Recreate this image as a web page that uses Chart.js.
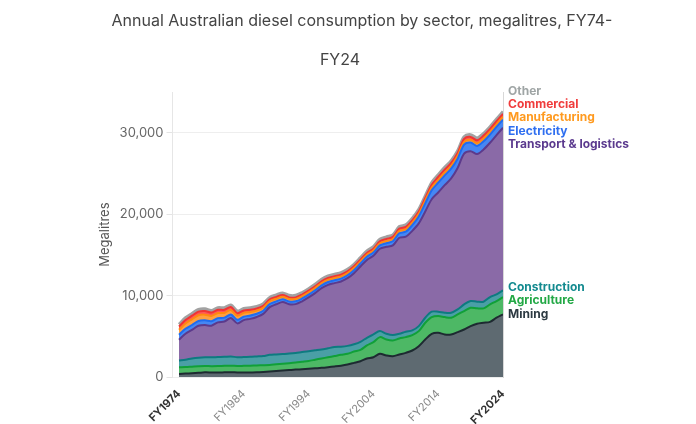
<!DOCTYPE html>
<html lang="en">
<head>
    <meta charset="UTF-8">
    <title>Annual Australian diesel consumption by sector</title>
    <script src="https://cdn.jsdelivr.net/npm/chart.js"></script>
    <style>
        html, body { margin: 0; padding: 0; background: #fff; overflow: hidden; }
        #wrap { position: relative; width: 696px; height: 424px; overflow: hidden; }
        .title { position: absolute; font-family: Inter, sans-serif; font-size: 16px; color: #444; white-space: nowrap; transform: translateX(-50%); }
    </style>
</head>
<body>
<div id="wrap">
    <div class="title" style="left:362px; top:10px;">Annual Australian diesel consumption by sector, megalitres, FY74-</div>
    <div class="title" style="left:340px; top:49px;">FY24</div>
    <canvas id="dieselChart" width="696" height="424"></canvas>
</div>
<script>
    // financial years FY1974 .. FY2024
    var fyLabels = ['FY1974','FY1975','FY1976','FY1977','FY1978','FY1979','FY1980','FY1981','FY1982','FY1983',
        'FY1984','FY1985','FY1986','FY1987','FY1988','FY1989','FY1990','FY1991','FY1992','FY1993',
        'FY1994','FY1995','FY1996','FY1997','FY1998','FY1999','FY2000','FY2001','FY2002','FY2003',
        'FY2004','FY2005','FY2006','FY2007','FY2008','FY2009','FY2010','FY2011','FY2012','FY2013',
        'FY2014','FY2015','FY2016','FY2017','FY2018','FY2019','FY2020','FY2021','FY2022','FY2023','FY2024'];

    // megalitres per sector
    var mining = [410,450,490,540,600,590,580,600,620,580,570,590,610,650,700,760,820,880,940,980,
        1030,1090,1150,1230,1320,1420,1560,1760,1970,2300,2460,2870,2670,2580,2790,2990,3280,3810,4630,5330,
        5450,5250,5250,5540,5860,6270,6560,6680,6800,7300,7710];
    var agriculture = [820,800,810,810,780,770,790,800,800,800,830,830,840,820,800,820,830,840,860,920,
        970,1060,1150,1220,1280,1330,1310,1390,1380,1600,1840,2050,1960,1930,1970,1930,1890,1850,2050,2050,
        2050,2130,2050,2170,2260,2260,1890,1770,2140,2050,2130];
    var construction = [820,900,1000,1050,1070,1090,1110,1100,1130,1070,1080,1080,1100,1130,1250,1220,1200,1180,1180,1200,
        1200,1150,1100,1100,1100,1000,980,900,1000,940,950,740,700,660,570,660,570,610,620,660,
        540,530,610,610,820,820,820,820,900,820,820];
    var transport = [2550,3180,3510,3910,3950,3880,4250,4330,4710,4160,4530,4660,4840,5170,5850,6150,6380,6050,5990,6220,
        6590,7020,7530,7790,7850,8000,8300,8720,9230,9550,9650,10100,10670,11010,11790,11660,12220,12610,13040,13800,
        14630,15660,16480,17350,18500,18390,18110,18680,18930,19540,19960];
    var electricity = [620,620,600,590,580,540,520,480,450,440,430,420,400,390,380,360,350,350,350,350,
        350,350,350,350,350,350,360,370,380,390,400,420,450,500,550,620,700,850,1000,1100,
        1200,1200,1200,1150,1100,1050,1000,1000,1000,1000,1000];
    var manufacturing = [600,650,700,700,700,650,620,580,550,500,460,430,400,370,340,320,300,290,280,280,
        280,280,280,280,280,280,270,260,250,250,250,260,270,280,290,300,310,320,330,340,
        350,350,350,350,350,350,350,350,350,350,350];
    var commercial = [400,420,440,450,450,420,400,380,350,320,300,270,250,240,230,220,220,210,200,200,
        200,200,200,200,200,200,210,210,220,220,230,240,250,260,270,280,290,300,320,340,
        350,350,350,350,350,350,350,350,350,350,350];
    var other = [280,280,280,270,270,260,260,260,250,250,250,250,250,250,250,250,250,250,250,250,
        250,250,250,250,250,250,250,250,250,250,250,250,250,250,260,260,260,270,270,280,
        280,280,280,280,280,280,280,280,280,280,280];

    var yTicks = [0, 10000, 20000, 30000];
    var xTickIdx = [0, 10, 20, 30, 40, 50];

    function pts(values) {
        return values.map(function(v, i) { return { x: i, y: v }; });
    }

    function series(label, values, fillColor, lineColor, labelColor, width) {
        return {
            label: label,
            data: pts(values),
            backgroundColor: fillColor,
            borderColor: lineColor,
            borderWidth: width || 2,
            pointRadius: 0,
            tension: 0.3,
            fill: label === 'Mining' ? 'origin' : '-1',
            labelColor: labelColor
        };
    }

    // end-of-series labels, pushed apart when they collide
    var endLabels = {
        id: 'endLabels',
        afterDatasetsDraw: function(chart) {
            var ctx = chart.ctx, area = chart.chartArea, gap = 13.3;
            var items = chart.data.datasets.map(function(ds, i) {
                var meta = chart.getDatasetMeta(i);
                var p = meta.data[meta.data.length - 1];
                return { text: ds.label, color: ds.labelColor, want: p.y };
            });
            items.sort(function(a, b) { return a.want - b.want; });
            var groups = items.map(function(it) { return { items: [it], mid: it.want }; });
            var moved = true;
            while (moved) {
                moved = false;
                for (var g = 0; g < groups.length - 1; g++) {
                    var a = groups[g], b = groups[g + 1];
                    var aBottom = a.mid + (a.items.length - 1) * gap / 2;
                    var bTop = b.mid - (b.items.length - 1) * gap / 2;
                    if (bTop - aBottom < gap) {
                        var all = a.items.concat(b.items);
                        var sum = 0;
                        all.forEach(function(it) { sum += it.want; });
                        groups.splice(g, 2, { items: all, mid: sum / all.length });
                        moved = true;
                        break;
                    }
                }
            }
            ctx.save();
            ctx.font = 'bold 12px Inter, sans-serif';
            ctx.textBaseline = 'middle';
            ctx.textAlign = 'left';
            groups.forEach(function(grp) {
                var start = grp.mid - (grp.items.length - 1) * gap / 2;
                grp.items.forEach(function(it, k) {
                    ctx.fillStyle = it.color;
                    ctx.fillText(it.text, area.right + 5, start + k * gap);
                });
            });
            ctx.restore();
        }
    };

    var ctx = document.getElementById('dieselChart').getContext('2d');
    var dieselChart = new Chart(ctx, {
        type: 'line',
        data: {
            datasets: [
                series('Mining', mining, '#5e6a71', '#1e2a31', '#2d3a42'),
                series('Agriculture', agriculture, '#4db865', '#10a038', '#22a845'),
                series('Construction', construction, '#4a9fa6', '#0d7b80', '#138a8f'),
                series('Transport & logistics', transport, '#8a6aa7', '#5c3a8c', '#5b3a8e'),
                series('Electricity', electricity, '#4687f3', '#1f6cf0', '#2f6ff0'),
                series('Manufacturing', manufacturing, '#ffa040', '#ff8a10', '#ff9a1f'),
                series('Commercial', commercial, '#ff5757', '#f03434', '#f03c3c'),
                series('Other', other, '#b4b4b4', '#a2a2a2', '#9fa5a5', 3)
            ]
        },
        options: {
            responsive: false,
            animation: false,
            layout: { padding: { top: 92, left: 93, right: 193, bottom: -5 } },
            plugins: {
                legend: { display: false },
                tooltip: { enabled: false }
            },
            scales: {
                x: {
                    type: 'linear',
                    min: -1,
                    max: 50,
                    afterBuildTicks: function(scale) {
                        scale.ticks = xTickIdx.map(function(v) { return { value: v }; });
                    },
                    grid: { display: false },
                    border: { display: false },
                    ticks: {
                        autoSkip: false,
                        minRotation: 45,
                        maxRotation: 45,
                        padding: 2,
                        callback: function(value) { return fyLabels[value]; },
                        color: function(c) {
                            return (c.tick.value === 0 || c.tick.value === 50) ? '#333' : '#888';
                        },
                        font: function(c) {
                            var edge = c.tick && (c.tick.value === 0 || c.tick.value === 50);
                            return { family: 'Inter', size: 11, weight: edge ? 'bold' : 'normal' };
                        }
                    }
                },
                y: {
                    stacked: true,
                    min: 0,
                    max: 35000,
                    afterBuildTicks: function(scale) {
                        scale.ticks = yTicks.map(function(v) { return { value: v }; });
                    },
                    title: {
                        display: true,
                        text: 'Megalitres',
                        color: '#555',
                        font: { family: 'Inter', size: 13 }
                    },
                    grid: { color: '#eeeeee', tickLength: 6, tickColor: '#e4e4e4' },
                    border: { color: '#e6e6e6' },
                    ticks: {
                        color: '#666',
                        padding: 3,
                        font: { family: 'Inter', size: 13 },
                        callback: function(value) { return value.toLocaleString('en-US'); }
                    }
                },
                y2: {
                    position: 'right',
                    min: 0,
                    max: 35000,
                    grid: { drawOnChartArea: false, drawTicks: false },
                    border: { color: '#d8d8d8' },
                    ticks: { display: false }
                }
            }
        },
        plugins: [endLabels]
    });
</script>
</body>
</html>
